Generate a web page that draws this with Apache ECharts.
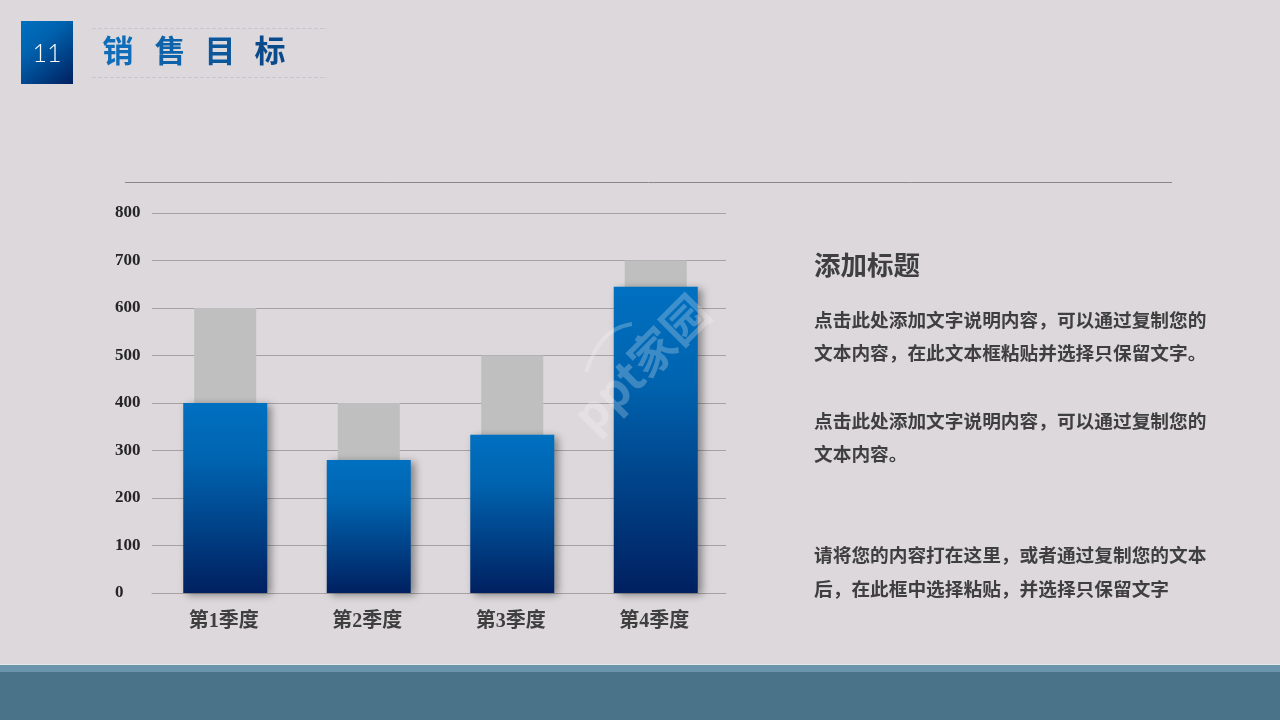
<!DOCTYPE html>
<html>
<head>
<meta charset="utf-8">
<style>
html, body { margin: 0; padding: 0; background: #dcd8dc; }
#main { width: 1280px; height: 720px; }
</style>
<script src="https://cdn.jsdelivr.net/npm/echarts@6/dist/echarts.min.js"></script>
</head>
<body>
<div id="main"></div>
<script>
var categories = ['第1季度', '第2季度', '第3季度', '第4季度'];
var targetValues = [600, 400, 500, 700];
var actualValues = [400, 280, 333, 645];
var titleChars = ['销', '售', '目', '标'];
var heading = '添加标题';
var bodyLines = [
    '点击此处添加文字说明内容，可以通过复制您的',
    '文本内容，在此文本框粘贴并选择只保留文字。',
    '点击此处添加文字说明内容，可以通过复制您的',
    '文本内容。',
    '请将您的内容打在这里，或者通过复制您的文本',
    '后，在此框中选择粘贴，并选择只保留文字'
];

var myChart = echarts.init(document.getElementById('main'));
var cjk = '"Liberation Serif", "Noto Sans CJK SC", serif';

function grad(x, y, x2, y2) {
    return new echarts.graphic.LinearGradient(x, y, x2, y2, [
        { offset: 0, color: '#0070c0' },
        { offset: 0.35, color: '#0062ae' },
        { offset: 1, color: '#002060' }
    ]);
}

// 页面上的装饰和文字
var graphics = [
    { type: 'rect', silent: true, z: -10, shape: { x: 0, y: 0, width: 1280, height: 720 }, style: { fill: '#dcd8dc' } },
    { type: 'rect', silent: true, shape: { x: 0, y: 664, width: 1280, height: 1 }, style: { fill: '#e6e8ea' } },
    { type: 'rect', silent: true, shape: { x: 0, y: 665, width: 1280, height: 7 }, style: { fill: '#6b95ad' } },
    { type: 'rect', silent: true, shape: { x: 0, y: 672, width: 1280, height: 48 }, style: { fill: '#4a7289' } },
    { type: 'rect', silent: true, shape: { x: 21, y: 21, width: 52, height: 63 }, style: { fill: grad(0, 0, 1, 1) } },
    { type: 'text', silent: true, x: 47, y: 54, style: { text: '11', fill: '#ffffff', font: '300 25px Lato', align: 'center', verticalAlign: 'middle' } },
    { type: 'line', silent: true, shape: { x1: 92, y1: 28.5, x2: 327, y2: 28.5 }, style: { stroke: '#c6c6cc', lineWidth: 1, lineDash: [4, 2] } },
    { type: 'line', silent: true, shape: { x1: 92, y1: 77.5, x2: 327, y2: 77.5 }, style: { stroke: '#c6c6cc', lineWidth: 1, lineDash: [4, 2] } },
    { type: 'line', silent: true, shape: { x1: 125, y1: 182.5, x2: 1172, y2: 182.5 }, style: { stroke: '#8c8688', lineWidth: 1 } },
    { type: 'text', silent: true, x: 814, y: 268, style: { text: heading, fill: '#3f3f3f', font: 'bold 26.5px ' + cjk, verticalAlign: 'middle' } }
];

var titleX = [118, 170, 220, 270];
var titleColors = ['#0f6cb8', '#0d62aa', '#0b579c', '#0a4a8a'];
titleChars.forEach(function (c, i) {
    graphics.push({ type: 'text', silent: true, x: titleX[i], y: 54, style: { text: c, fill: titleColors[i], font: 'bold 31px ' + cjk, align: 'center', verticalAlign: 'middle' } });
});

var bodyY = [322, 355, 423, 456, 557, 591];
bodyLines.forEach(function (t, i) {
    graphics.push({ type: 'text', silent: true, x: 814, y: bodyY[i], style: { text: t, fill: '#3f3f3f', font: 'bold 18.7px ' + cjk, verticalAlign: 'middle' } });
});

// 水印
graphics.push({
    type: 'text', silent: true, z: 100, x: 641, y: 363, rotation: Math.PI / 4,
    style: { text: 'ppt家园', fill: 'rgba(255,255,255,0.24)', font: 'bold 46px "Noto Sans CJK SC"', align: 'center', verticalAlign: 'middle' }
});
graphics.push({
    type: 'bezierCurve', silent: true, z: 100,
    shape: { x1: 586, y1: 372, cpx1: 594, cpy1: 350, x2: 632, y2: 324, cpx2: 604, cpy2: 328 },
    style: { stroke: 'rgba(255,255,255,0.24)', fill: 'none', lineWidth: 4 }
});

myChart.setOption({
    animation: false,
    backgroundColor: '#dcd8dc',
    graphic: graphics,
    grid: [
        { left: 152, right: 554, top: 213, bottom: 127 },
        // 柱子比标签略偏右
        { left: 153.5, right: 552.5, top: 213, bottom: 127 }
    ],
    xAxis: [
        {
            type: 'category',
            gridIndex: 0,
            data: categories,
            axisTick: { show: false },
            axisLine: { lineStyle: { color: '#a6a2a4', width: 1 } },
            axisLabel: { color: '#3f3f3f', fontSize: 20, fontWeight: 'bold', fontFamily: '"Liberation Serif", "Noto Sans CJK SC", serif', margin: 19 }
        },
        { type: 'category', gridIndex: 1, data: categories, show: false },
        { type: 'category', gridIndex: 1, data: categories, show: false }
    ],
    yAxis: [
        {
            type: 'value',
            gridIndex: 0,
            min: 0,
            max: 800,
            interval: 100,
            axisLine: { show: false },
            axisTick: { show: false },
            splitLine: { lineStyle: { color: '#a6a2a4', width: 1 } },
            axisLabel: { color: '#262626', fontSize: 17, fontWeight: 'bold', fontFamily: '"Liberation Serif", serif', align: 'left', margin: 37, padding: [2, 0, 0, 0] }
        },
        { type: 'value', gridIndex: 1, min: 0, max: 800, interval: 100, show: false }
    ],
    series: [
        {
            name: '目标',
            type: 'bar',
            xAxisIndex: 2,
            yAxisIndex: 1,
            data: targetValues,
            barWidth: 62,
            z: 2,
            itemStyle: { color: '#bfbfbf' }
        },
        {
            name: '实际',
            type: 'bar',
            xAxisIndex: 1,
            yAxisIndex: 1,
            data: actualValues,
            barWidth: 84,
            z: 3,
            itemStyle: {
                color: new echarts.graphic.LinearGradient(0, 0, 0, 1, [
                    { offset: 0, color: '#0070c0' },
                    { offset: 0.3, color: '#0064b0' },
                    { offset: 1, color: '#002060' }
                ]),
                shadowColor: 'rgba(0,0,0,0.4)',
                shadowBlur: 8,
                shadowOffsetX: 4,
                shadowOffsetY: 2
            }
        }
    ]
});
</script>
</body>
</html>
